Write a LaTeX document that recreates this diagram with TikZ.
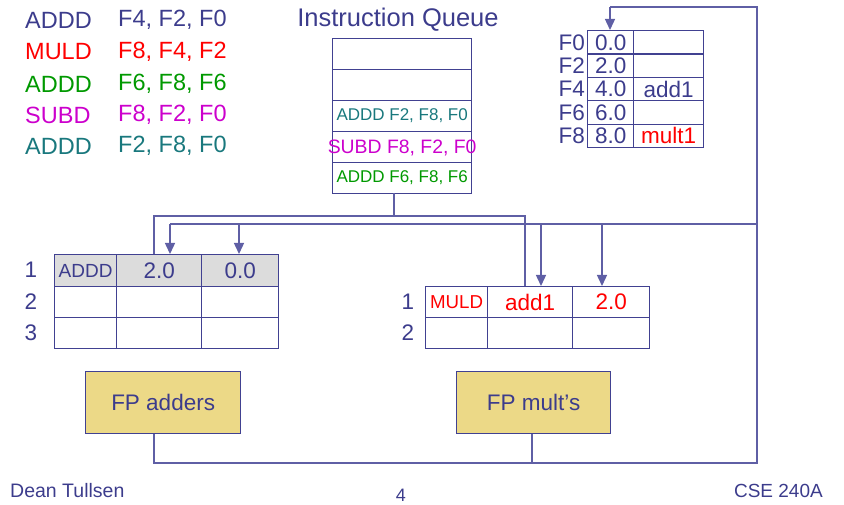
\documentclass[tikz,border=0pt]{standalone}
\usepackage{fontspec}
\setmainfont{Liberation Sans}
\usetikzlibrary{arrows.meta}
\definecolor{tblue}{RGB}{60,60,140}
\definecolor{lblue}{RGB}{65,65,145}
\definecolor{buscol}{RGB}{95,95,165}
\definecolor{tred}{RGB}{255,0,0}
\definecolor{tgreen}{RGB}{0,153,0}
\definecolor{tmag}{RGB}{204,0,204}
\definecolor{tteal}{RGB}{25,120,125}
\definecolor{fpfill}{RGB}{236,217,135}
\definecolor{shade}{RGB}{220,220,220}
\newcommand{\fs}[1]{\fontsize{#1pt}{#1pt}\selectfont}
\begin{document}
\begin{tikzpicture}[x=1pt,y=-1pt,
  txt/.style={inner sep=0pt, anchor=west, font=\fs{23.5}},
  cell/.style={draw=lblue, line width=1.3pt, inner sep=0pt, anchor=north west, text=tblue},
  ctext/.style={inner sep=0pt},
  fpbox/.style={draw=lblue, line width=1.3pt, fill=fpfill, inner sep=0pt, anchor=north west, text=tblue, font=\fs{22.5}},
  bus/.style={draw=buscol, line width=1.4pt},
  arr/.style={bus, -{Triangle[width=10pt,length=11pt]}},
  lbl/.style={inner sep=0pt, text=tblue, font=\fs{22.5}}]
\useasboundingbox (0,0) rectangle (844,505);

% instruction list
\node[txt, text=tblue]  (i1a) at (25,20)  {ADDD};
\node[txt, text=tblue]  (i1b) at (118,20) {F4, F2, F0};
\node[txt, text=tred]   (i2a) at (25,52)  {MULD};
\node[txt, text=tred]   (i2b) at (118,52) {F8, F4, F2};
\node[txt, text=tgreen] (i3a) at (25,84)  {ADDD};
\node[txt, text=tgreen] (i3b) at (118,84) {F6, F8, F6};
\node[txt, text=tmag]   (i4a) at (25,115) {SUBD};
\node[txt, text=tmag]   (i4b) at (118,115) {F8, F2, F0};
\node[txt, text=tteal]  (i5a) at (25,146) {ADDD};
\node[txt, text=tteal]  (i5b) at (118,146) {F2, F8, F0};

% instruction queue
\node[ctext, text=tblue, font=\fs{25.5}] (qtitle) at (398,20) {Instruction Queue};
\foreach \i in {0,...,4} {
  \node[cell, minimum width=139pt, minimum height=31pt] (q\i) at (332,{38+31*\i}) {};
}
\node[ctext, text=tteal, font=\fs{17}] (q2t) at (q2.center) {ADDD F2, F8, F0};
\node[ctext, text=tmag, font=\fs{19.4}] (q3t) at ([yshift=-1pt]q3.center) {SUBD F8, F2, F0};
\node[ctext, text=tgreen, font=\fs{17}] (q4t) at (q4.center) {ADDD F6, F8, F6};

% register file
\foreach \n/\v/\t [count=\i from 0] in {F0/0.0/, F2/2.0/, F4/4.0/add1, F6/6.0/, F8/8.0/} {
  \node[cell, minimum width=46pt, minimum height=23.4pt, font=\fs{22.5}] (rv\i) at (587,{30+23.4*\i}) {\v};
  \node[cell, minimum width=70pt, minimum height=23.4pt, font=\fs{22.5}] (rt\i) at (633,{30+23.4*\i}) {\t};
  \node[lbl, anchor=east, font=\fs{22.5}] (rl\i) at ([xshift=-2pt]rv\i.west) {\n};
}
\node[ctext, text=tred, font=\fs{22.5}] (mult1) at (rt4.center) {mult1};

% adder reservation stations
\foreach \r/\y in {2/286,3/317} {
  \node[cell, minimum width=62pt, minimum height=31pt] (a\r o) at (54,\y) {};
  \node[cell, minimum width=85pt, minimum height=31pt] (a\r j) at (116,\y) {};
  \node[cell, minimum width=77pt, minimum height=31pt] (a\r k) at (201,\y) {};
}
\node[cell, fill=shade, minimum width=62pt, minimum height=32pt, font=\fs{19}] (a1o) at (54,254) {ADDD};
\node[cell, fill=shade, minimum width=85pt, minimum height=32pt, font=\fs{22.5}] (a1j) at (116,254) {2.0};
\node[cell, fill=shade, minimum width=77pt, minimum height=32pt, font=\fs{22.5}] (a1k) at (201,254) {0.0};
\foreach \r/\y in {1/254,2/286,3/317} {
  \node[lbl] (al\r) at (31,{\y+16}) {\r};
}

% multiplier reservation stations
\foreach \r/\y in {1/286,2/317} {
  \node[cell, minimum width=62pt, minimum height=31pt] (m\r o) at (425,\y) {};
  \node[cell, minimum width=85pt, minimum height=31pt] (m\r j) at (487,\y) {};
  \node[cell, minimum width=77pt, minimum height=31pt] (m\r k) at (572,\y) {};
  \node[lbl] (ml\r) at (408,{\y+16}) {\r};
}
\node[ctext, text=tred, font=\fs{18.7}] (m1ot) at (m1o.center) {MULD};
\node[ctext, text=tred, font=\fs{22.5}] (m1jt) at (m1j.center) {add1};
\node[ctext, text=tred, font=\fs{22.5}] (m1kt) at (m1k.center) {2.0};

% functional units
\node[fpbox, minimum width=155pt, minimum height=62pt] (fpa) at (85,371) {FP adders};
\node[fpbox, minimum width=154pt, minimum height=62pt] (fpm) at (456,371) {FP mult’s};

% footer
\node[ctext, anchor=west, text=tblue, font=\fs{19.5}] (fl) at (10,491) {Dean Tullsen};
\node[ctext, text=tblue, font=\fs{18}] (fc) at (401,495) {4};
\node[ctext, anchor=east, text=tblue, font=\fs{19}] (fr) at (823,491) {CSE 240A};

% coordinates
\coordinate (qbot) at (394,193);
\coordinate (qj) at (394,216);
\coordinate (iL) at (154,216);
\coordinate (iR) at (525,216);
\coordinate (cL) at (170,224);
\coordinate (cR) at (757,224);
\coordinate (cTop) at (757,7);
\coordinate (cF0) at (610,7);
\coordinate (cBot) at (757,463);
\coordinate (aBot) at (154,463);
\coordinate (mBot) at (532,463);
\coordinate (a2) at (239,224);
\coordinate (m1) at (541,224);
\coordinate (m2) at (602,224);

% issue bus
\draw[bus] (qbot) -- (qj);
\draw[bus] (iL |- a1o.north) -- (iL) -- (iR) -- (iR |- m1j.north);

% common data bus
\draw[bus] (fpa.south -| aBot) -- (aBot) -- (cBot) -- (cTop) -- (cF0);
\draw[arr] (cF0) -- (cF0 |- rv0.north);
\draw[bus] (fpm.south -| mBot) -- (mBot);
\draw[bus] (cL) -- (cR);
\draw[arr] (cL) -- (cL |- a1j.north);
\draw[arr] (a2) -- (a2 |- a1k.north);
\draw[arr] (m1) -- (m1 |- m1j.north);
\draw[arr] (m2) -- (m2 |- m1k.north);
\end{tikzpicture}
\end{document}
